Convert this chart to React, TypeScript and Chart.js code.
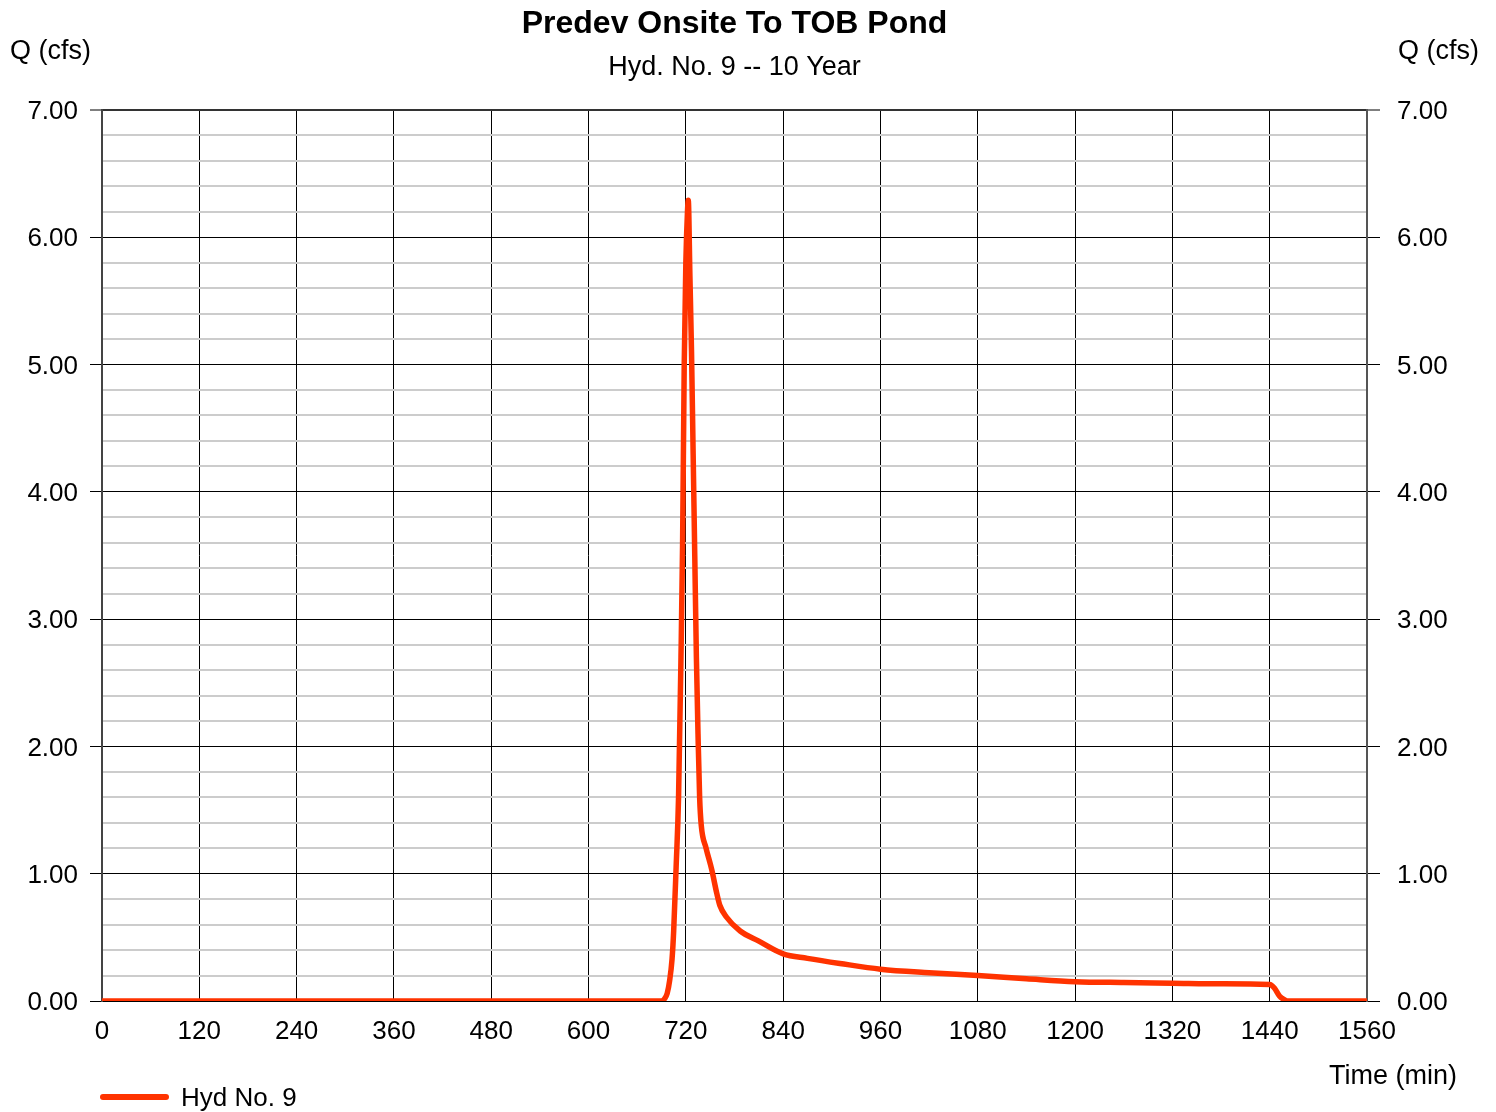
import React, { useEffect, useRef } from "react";
import { Chart, registerables } from "chart.js";

Chart.register(...registerables);

// ---- data ----
const chartTitle = "Predev Onsite To TOB Pond";
const chartSubtitle = "Hyd. No. 9 -- 10 Year";
const yAxisLabel = "Q (cfs)";
const xAxisLabel = "Time (min)";
const seriesName = "Hyd No. 9";

const timeMin: number[] = [
  0, 690, 694, 697, 700, 703, 705, 708, 711, 714, 716, 718, 720, 722, 723,
  725, 727, 729, 731, 733, 735, 737, 739, 745, 752, 758, 762, 770, 787, 810,
  840, 870, 910, 960, 1020, 1080, 1140, 1200, 1260, 1320, 1380, 1440, 1446,
  1452, 1458, 1462, 1560,
];
const flowCfs: number[] = [
  0, 0, 0.02, 0.06, 0.16, 0.33, 0.55, 1.05, 1.6, 2.7, 3.6, 5.0, 5.8, 6.2, 6.29,
  5.7, 5.1, 4.3, 3.5, 2.7, 2.1, 1.6, 1.38, 1.2, 1.03, 0.85, 0.75, 0.66, 0.55, 0.47,
  0.37, 0.335, 0.295, 0.25, 0.222, 0.2, 0.175, 0.152, 0.145, 0.14, 0.135, 0.13, 0.1,
  0.04, 0.01, 0, 0,
];

const xMin = 0;
const xMax = 1560;
const xStep = 120;
const yMin = 0;
const yMax = 7;
const yStep = 0.2;

const LINE_COLOR = "#ff3300";
const FONT = '"Liberation Sans", Arial, sans-serif';

const isMajor = (v: number) => Math.abs(v - Math.round(v)) < 1e-6;

const textPlugin = {
  id: "hydTexts",
  afterDraw(chart: any) {
    const ctx: CanvasRenderingContext2D = chart.ctx;
    const area = chart.chartArea;
    const cx = (area.left + area.right) / 2;
    ctx.save();
    ctx.fillStyle = "#000";
    ctx.textBaseline = "alphabetic";

    ctx.textAlign = "center";
    ctx.font = `bold 32px ${FONT}`;
    ctx.fillText(chartTitle, cx, 33);
    ctx.font = `27px ${FONT}`;
    ctx.fillText(chartSubtitle, cx, 75);

    ctx.textAlign = "left";
    ctx.fillText(yAxisLabel, 10, 59);
    ctx.fillText(yAxisLabel, 1398, 59);
    ctx.fillText(xAxisLabel, 1329, 1084);

    // legend
    ctx.strokeStyle = LINE_COLOR;
    ctx.lineWidth = 6;
    ctx.lineCap = "round";
    ctx.beginPath();
    ctx.moveTo(103, 1097);
    ctx.lineTo(166, 1097);
    ctx.stroke();
    ctx.font = `26px ${FONT}`;
    ctx.fillText(seriesName, 181, 1106);
    ctx.restore();
  },
};

export default function App() {
  const canvasRef = useRef<HTMLCanvasElement | null>(null);

  useEffect(() => {
    document.body.style.margin = "0";
    const canvas = canvasRef.current;
    if (!canvas) return;
    Chart.defaults.font.family = FONT;
    const points = timeMin.map((t, i) => ({ x: t, y: flowCfs[i] }));

    const yGrid = {
      color: (c: any) => {
        const v = c.tick?.value ?? 0;
        if (Math.abs(v - yMax) < 1e-6) return "#333333";
        return isMajor(v) ? "#000000" : "#cccccc";
      },
      lineWidth: (c: any) => {
        const v = c.tick?.value ?? 0;
        if (Math.abs(v - yMax) < 1e-6) return 2;
        return isMajor(v) ? 1 : 2;
      },
      tickColor: (c: any) => (isMajor(c.tick?.value ?? 0) ? "#000000" : "rgba(0,0,0,0)"),
      tickWidth: 1,
    };

    const chart = new Chart(canvas, {
      type: "line",
      data: {
        datasets: [
          {
            label: seriesName,
            data: points,
            borderColor: LINE_COLOR,
            backgroundColor: LINE_COLOR,
            borderWidth: 5.5,
            pointRadius: 0,
            cubicInterpolationMode: "monotone",
            borderCapStyle: "round",
            borderJoinStyle: "round",
            fill: false,
          },
        ],
      },
      options: {
        animation: false,
        responsive: true,
        maintainAspectRatio: false,
        layout: { padding: { top: 110, left: 0, right: 0, bottom: 0 } },
        plugins: {
          legend: { display: false },
          title: { display: false },
          tooltip: { enabled: false },
        },
        scales: {
          x: {
            type: "linear",
            min: xMin,
            max: xMax,
            afterFit: (s: any) => {
              s.height = 111;
            },
            ticks: {
              stepSize: xStep,
              autoSkip: false,
              maxRotation: 0,
              padding: 15,
              color: "#000",
              font: { size: 26, family: FONT },
              callback: (v: any) => String(Math.round(Number(v))),
            },
            grid: {
              color: "#000000",
              lineWidth: 1,
              drawTicks: false,
            },
            border: { display: true, color: "#000000", width: 1 },
          },
          y: {
            type: "linear",
            position: "left",
            min: yMin,
            max: yMax,
            afterFit: (s: any) => {
              s.width = 102;
            },
            ticks: {
              stepSize: yStep,
              autoSkip: false,
              padding: 12,
              labelOffset: 2,
              color: "#000",
              font: { size: 26, family: FONT },
              callback: (v: any) => (isMajor(Number(v)) ? Number(v).toFixed(2) : ""),
            },
            grid: { ...yGrid, tickLength: 12 },
            border: { display: true, color: "#444444", width: 2 },
          },
          y2: {
            type: "linear",
            position: "right",
            min: yMin,
            max: yMax,
            afterFit: (s: any) => {
              s.width = 129;
            },
            ticks: {
              stepSize: yStep,
              autoSkip: false,
              padding: 17,
              labelOffset: 2,
              color: "#000",
              font: { size: 26, family: FONT },
              callback: (v: any) => (isMajor(Number(v)) ? Number(v).toFixed(2) : ""),
            },
            grid: { ...yGrid, tickLength: 13, drawOnChartArea: false },
            border: { display: true, color: "#555555", width: 2 },
          },
        },
      },
      plugins: [textPlugin],
    } as any);

    return () => {
      chart.destroy();
    };
  }, []);

  return (
    <div style={{ position: "relative", width: 1496, height: 1112 }}>
      <canvas ref={canvasRef} />
    </div>
  );
}
